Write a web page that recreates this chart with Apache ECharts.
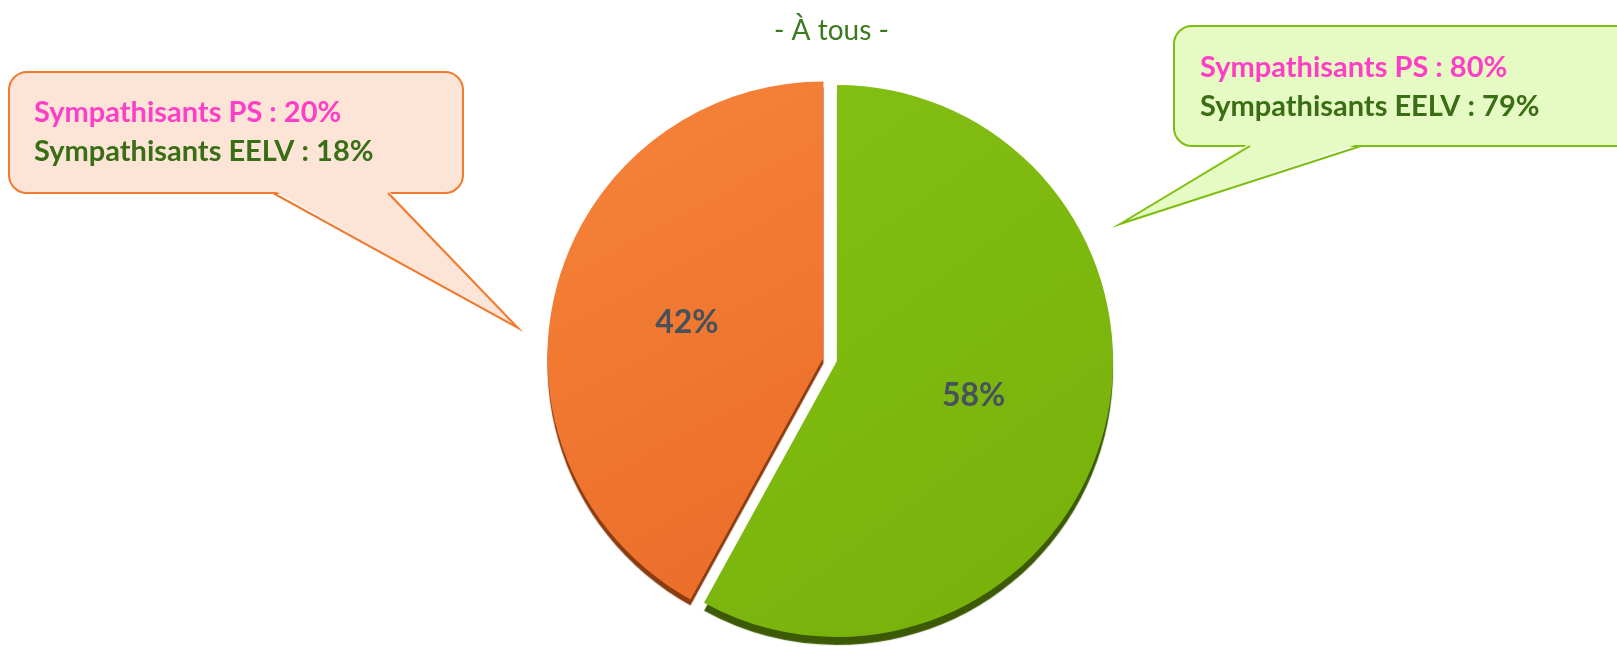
<!DOCTYPE html>
<html>
<head>
<meta charset="utf-8">
<script src="https://cdn.jsdelivr.net/npm/echarts@6/dist/echarts.min.js"></script>
<style>
  html, body { margin: 0; padding: 0; background: #fff; }
  #chart { width: 1617px; height: 647px; }
</style>
</head>
<body>
<div id="chart"></div>
<script>
// données
var sliceNames = ['Oui', 'Non'];
var sliceValues = [58, 42];
var groupNames = ['Sympathisants PS', 'Sympathisants EELV'];
var ouiDetail = [80, 79];   // bulle verte
var nonDetail = [20, 18];   // bulle orange

var chart = echarts.init(document.getElementById('chart'));

// bulle : rectangle arrondi + pointe
function bubble(x0, y0, x1, y1, bx0, bx1, tx, ty, fill, stroke) {
    return [
        {
            type: 'rect',
            shape: { x: x0, y: y0, width: x1 - x0, height: y1 - y0, r: 18 },
            style: { fill: fill, stroke: stroke, lineWidth: 2 }
        },
        {
            type: 'polygon',
            shape: { points: [[bx0, y1 - 3], [tx, ty], [bx1, y1 - 3]] },
            style: { fill: fill }
        },
        {
            type: 'polyline',
            shape: { points: [[bx0, y1], [tx, ty], [bx1, y1]] },
            style: { fill: null, stroke: stroke, lineWidth: 2 }
        }
    ];
}

var font = 'bold 29px Lato';
function line(x, y, txt, color) {
    return {
        type: 'text', z: 10,
        style: { text: txt, x: x, y: y, fill: color, font: font, verticalAlign: 'middle' }
    };
}

function grad(c0, c1) {
    return { type: 'linear', x: 0, y: 0, x2: 1, y2: 1,
        colorStops: [{ offset: 0, color: c0 }, { offset: 1, color: c1 }] };
}

var graphics = []
    .concat(bubble(9, 72, 463, 193, 273, 388, 518, 328, '#fce4d6', '#f07a2e'))
    .concat(bubble(1174, 26, 1640, 146, 1250, 1361, 1120, 224, '#e6fac4', '#7dbe10'))
    .concat([
        line(34, 113, groupNames[0] + ' : ' + nonDetail[0] + '%', '#ff3ec8'),
        line(34, 152, groupNames[1] + ' : ' + nonDetail[1] + '%', '#3a6e14'),
        line(1200, 68, groupNames[0] + ' : ' + ouiDetail[0] + '%', '#ff3ec8'),
        line(1200, 107, groupNames[1] + ' : ' + ouiDetail[1] + '%', '#3a6e14')
    ]);

chart.setOption({
    animation: false,
    title: {
        text: '- À tous -',
        left: 769,
        top: 12,
        textStyle: { color: '#3b7a1e', fontSize: 28, fontWeight: 'normal', fontFamily: 'Lato' }
    },
    graphic: graphics,
    series: [{
        type: 'pie',
        center: [837, 361],
        radius: 276,
        startAngle: 90,
        clockwise: true,
        selectedMode: 'single',
        selectedOffset: 14,
        label: {
            show: true,
            position: 'inside',
            formatter: '{d}%',
            color: '#46515c',
            fontSize: 32,
            fontWeight: 'bold',
            fontFamily: 'Lato'
        },
        labelLine: { show: false },
        emphasis: { disabled: true },
        select: { itemStyle: { borderWidth: 0 } },
        data: [
            {
                name: sliceNames[0], value: sliceValues[0],
                itemStyle: {
                    color: grad('#84c014', '#76b00a'),
                    shadowColor: '#3c5a06', shadowOffsetY: 8, shadowBlur: 1
                }
            },
            {
                name: sliceNames[1], value: sliceValues[1], selected: true,
                itemStyle: {
                    color: grad('#f6843a', '#ea6c28'),
                    shadowColor: '#8a3c10', shadowOffsetY: 6, shadowBlur: 1
                }
            }
        ]
    }]
});
</script>
</body>
</html>
